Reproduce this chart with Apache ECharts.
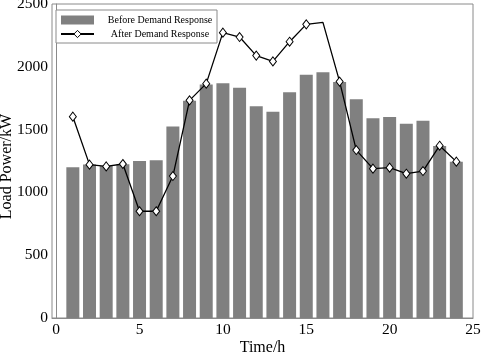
<!DOCTYPE html>
<html>
<head>
<meta charset="utf-8">
<script src="https://cdn.jsdelivr.net/npm/echarts@6/dist/echarts.min.js"></script>
<style>html,body{margin:0;padding:0;background:#fff}#c{width:484px;height:353px}</style>
</head>
<body>
<div id="c"></div>
<script>
const hours = [1,2,3,4,5,6,7,8,9,10,11,12,13,14,15,16,17,18,19,20,21,22,23,24];
const beforeDR = [1200,1223,1210,1225,1250,1255,1525,1730,1860,1870,1834,1685,1643,1797,1937,1956,1879,1741,1590,1600,1547,1571,1369,1245];
const afterDR = [1603,1221,1207,1226,850,850,1130,1733,1866,2272,2237,2089,2043,2200,2338,2354,1882,1337,1189,1197,1149,1170,1372,1245];
const xTicks = [0,5,10,15,20,25];
const seriesNames = ['Before Demand Response','After Demand Response'];

const serif = '"Liberation Serif","Times New Roman",serif';
const chart = echarts.init(document.getElementById('c'));
chart.setOption({
  animation: false,
  grid: {left: 52, right: 11, top: 4, bottom: 35, outerBoundsMode: 'none', containLabel: false,
    show: true, borderColor: '#8a8a8a', borderWidth: 1, backgroundColor: 'transparent'},
  legend: {
    orient: 'vertical', left: 56, top: 10,
    padding: [5, 3, 4, 4], itemGap: 4,
    itemWidth: 33, itemHeight: 9,
    borderColor: '#8a8a8a', borderWidth: 1, backgroundColor: '#fff',
    formatter: n => '{t|' + n + '}',
    textStyle: {fontFamily: serif, fontSize: 10, color: '#000',
      rich: {t: {fontFamily: serif, fontSize: 10, width: 108, align: 'center', padding: [0,0,0,7], lineHeight: 11}}},
    data: [
      {name: seriesNames[0], icon: 'rect'},
      {name: seriesNames[1], itemStyle: {color: '#fff', borderColor: '#000', borderWidth: 1}}
    ]
  },
  xAxis: {
    type: 'value', min: -0.25, max: 25,
    name: 'Time/h', nameLocation: 'middle', nameGap: 22, nameMoveOverlap: false,
    nameTextStyle: {fontFamily: serif, fontSize: 16, color: '#000'},
    axisLine: {show: true, onZero: false, lineStyle: {color: '#8a8a8a'}},
    axisTick: {show: false},
    splitLine: {show: false},
    axisLabel: {customValues: xTicks, fontFamily: serif, fontSize: 15.5, color: '#000', margin: 4, formatter: v => String(v)}
  },
  yAxis: {
    type: 'value', min: 0, max: 2500, interval: 500,
    name: 'Load Power/kW', nameLocation: 'middle', nameGap: 37, nameMoveOverlap: false,
    nameTextStyle: {fontFamily: serif, fontSize: 16, color: '#000', padding: [0, 11, 0, 0]},
    axisLine: {show: true, lineStyle: {color: '#8a8a8a'}},
    axisTick: {show: false},
    splitLine: {show: false},
    axisLabel: {fontFamily: serif, fontSize: 15.5, color: '#000', margin: 4, formatter: v => String(v)}
  },
  series: [
    {
      name: seriesNames[0], type: 'bar', barWidth: 13,
      itemStyle: {color: '#808080'},
      data: hours.map((h, i) => [h, beforeDR[i]])
    },
    {
      name: seriesNames[1], type: 'line',
      symbol: 'diamond', symbolSize: [7, 9],
      itemStyle: {color: '#fff', borderColor: '#000', borderWidth: 1},
      lineStyle: {color: '#000', width: 1.3},
      data: hours.map((h, i) => (h === 16 ? {value: [h, afterDR[i]], symbol: 'none'} : [h, afterDR[i]]))
    }
  ]
});
</script>
</body>
</html>
